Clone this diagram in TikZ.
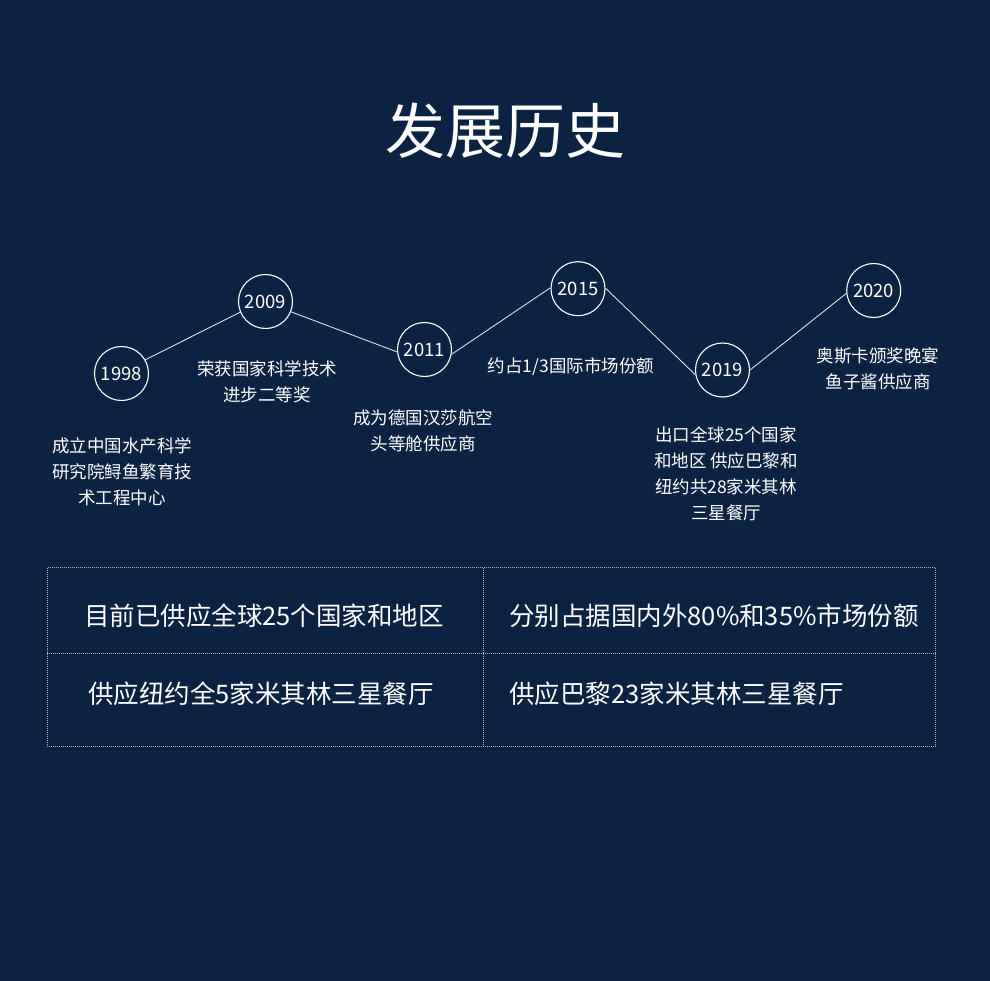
\documentclass[tikz,border=0pt]{standalone}
\usepackage{fontspec}
\setmainfont{Noto Sans CJK SC}
\definecolor{bg}{HTML}{0C2242}
\definecolor{gridc}{HTML}{A9B3C2}
\newcommand{\yrtxt}[1]{\raisebox{-1.5pt}{#1}}
\begin{document}
\begin{tikzpicture}[x=1pt,y=-1pt,
  year/.style={circle,draw=white,line width=1.1pt,minimum size=54pt,inner sep=0pt,text=white,font=\fontsize{18.5}{20}\selectfont},
  lbl/.style={align=center,text=white,inner sep=0pt,font=\fontsize{17.5}{26}\selectfont},
  cell/.style={text=white,inner sep=0pt,font=\fontsize{25.5}{30}\selectfont},
  link/.style={draw=white!85!bg,line width=0.9pt},
  grid/.style={draw=gridc,line width=0.9pt,dash pattern=on 1pt off 1pt}]
\fill[bg] (0,0) rectangle (990,981);
\useasboundingbox (0,0) rectangle (990,981);
\node[text=white,font=\fontsize{60}{70}\selectfont] (title) at (505,131) {发展历史};
% years
\node[year] (y1998) at (121.5,373.5) {\yrtxt{1998}};
\node[year] (y2009) at (265.5,301.5) {\yrtxt{2009}};
\node[year] (y2011) at (424.5,349.5) {\yrtxt{2011}};
\node[year] (y2015) at (578,288.7) {\yrtxt{2015}};
\node[year] (y2019) at (722.5,370) {\yrtxt{2019}};
\node[year] (y2020) at (873.7,290.5) {\yrtxt{2020}};
\draw[link] (y1998.30) -- (y2009.203);
\draw[link] (y2009.338) -- (y2011.185);
\draw[link] (y2011.350) -- (y2015.178);
\draw[link] (y2015.1) -- (y2019.190);
\draw[link] (y2019.0) -- (y2020.186);
% labels
\node[lbl] (l1998) at (122,472) {成立中国水产科学\\研究院鲟鱼繁育技\\术工程中心};
\node[lbl] (l2009) at (267,382) {荣获国家科学技术\\进步二等奖};
\node[lbl] (l2011) at (423,431) {成为德国汉莎航空\\头等舱供应商};
\node[lbl] (l2015) at (571,367) {约占1/3国际市场份额};
\node[lbl] (l2019) at (726,474) {出口全球25个国家\\和地区 供应巴黎和\\纽约共28家米其林\\三星餐厅};
\node[lbl] (l2020) at (878,369) {奥斯卡颁奖晚宴\\鱼子酱供应商};
% table
\coordinate (tl) at (47.3,567.5);
\coordinate (br) at (935.7,746);
\draw[grid] (tl) rectangle (br);
\coordinate (vt) at (483.3,567.5);
\coordinate (vb) at (483.3,746);
\coordinate (hl) at (47.3,653.3);
\coordinate (hr) at (935.7,653.3);
\draw[grid] (vt) -- (vb);
\draw[grid] (hl) -- (hr);
\node[cell] (c11) at (264,616) {目前已供应全球25个国家和地区};
\node[cell,anchor=west] (c12) at (509,616) {分别占据国内外80\%和35\%市场份额};
\node[cell] (c21) at (261,694) {供应纽约全5家米其林三星餐厅};
\node[cell,anchor=west] (c22) at (509,694) {供应巴黎23家米其林三星餐厅};
\end{tikzpicture}
\end{document}
